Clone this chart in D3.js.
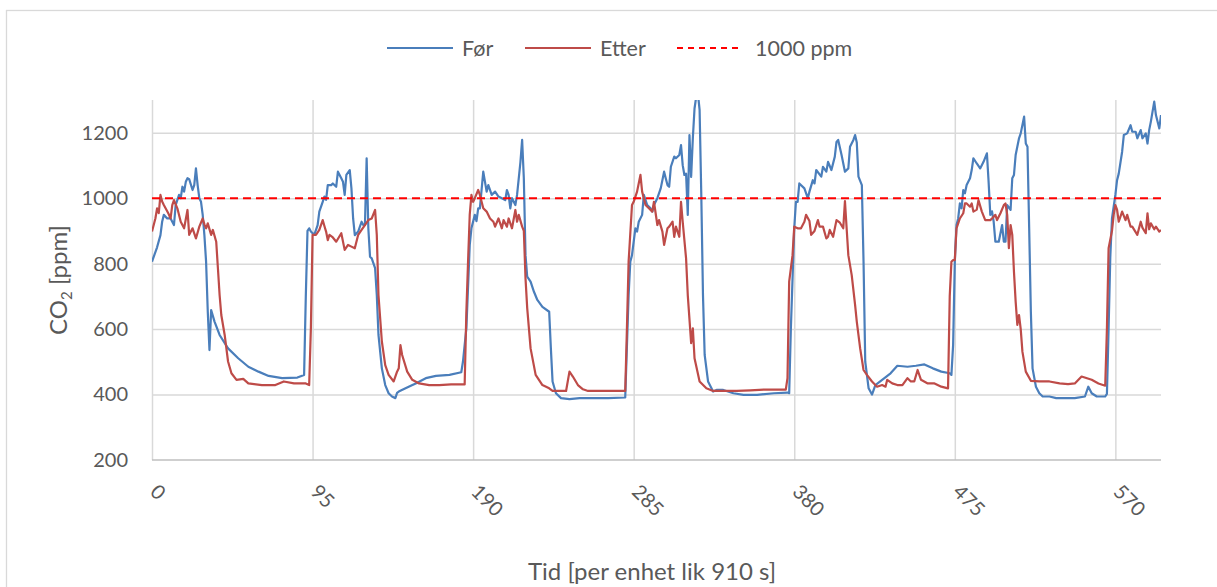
<!DOCTYPE html>
<html>
<head>
<meta charset="utf-8">
<script src="https://cdn.jsdelivr.net/npm/d3@7"></script>
<style>
  body { margin: 0; background: #fff; }
  svg { display: block; font-family: Lato, "Open Sans", sans-serif; }
</style>
</head>
<body>
<script>
// values: [time index, CO2 ppm]
const forData = [[0,806],[3,850],[5,887],[6,928],[7,949],[9,938],[11,938],[13,918],[14,979],[16,1010],[17,1000],[18,1035],[19,1020],[20,1050],[21,1061],[22,1058],[24,1025],[25,1040],[26,1091],[27,1040],[28,1000],[29,989],[30,949],[31,887],[32,806],[33,653],[34,536],[35,658],[37,623],[40,582],[45,541],[51,511],[57,485],[63,470],[69,457],[77,450],[86,452],[90,460],[91,700],[92,900],[93,908],[94,898],[96,888],[98,918],[99,959],[101,989],[102,1005],[103,995],[104,1040],[106,1040],[107,1045],[109,1035],[110,1081],[112,1061],[113,1050],[114,1010],[115,1071],[117,1086],[118,1030],[119,938],[120,887],[122,898],[124,928],[125,918],[126,918],[127,1122],[128,908],[129,821],[130,816],[132,786],[133,704],[134,582],[136,480],[138,429],[140,404],[142,394],[144,389],[145,405],[146,409],[150,419],[156,434],[162,450],[168,457],[176,460],[183,468],[184,501],[186,602],[188,857],[189,908],[191,949],[192,930],[193,969],[194,969],[196,1081],[198,1020],[199,1040],[201,1010],[203,1020],[205,1005],[207,1000],[209,994],[210,1025],[211,1010],[212,969],[213,1000],[215,979],[216,1010],[218,1111],[219,1178],[220,1061],[221,826],[222,760],[224,745],[226,714],[228,689],[231,668],[235,653],[236,541],[237,440],[239,404],[242,389],[247,386],[253,389],[260,389],[270,389],[280,391],[282,704],[283,806],[284,826],[286,908],[287,898],[288,928],[290,949],[291,1010],[293,979],[295,969],[296,959],[297,979],[299,1000],[301,1030],[303,1081],[304,1060],[305,1040],[306,1035],[307,1096],[309,1127],[310,1122],[312,1132],[313,1162],[314,1101],[315,1071],[316,1075],[317,949],[318,1193],[319,1065],[320,1183],[321,1274],[322,1310],[323,1320],[324,1270],[325,1010],[326,704],[327,521],[329,440],[332,409],[334,414],[338,414],[344,404],[350,399],[358,399],[368,404],[376,406],[377,404],[378,602],[380,908],[381,989],[382,989],[383,1045],[386,1030],[388,1000],[389,1020],[391,1055],[392,1045],[393,1086],[396,1066],[397,1096],[399,1081],[400,1111],[402,1086],[404,1127],[405,1172],[406,1178],[408,1132],[410,1081],[412,1091],[413,1157],[415,1178],[416,1193],[417,1170],[418,1066],[420,1040],[421,806],[422,501],[424,419],[426,400],[428,429],[432,445],[437,465],[441,488],[447,485],[452,488],[457,492],[462,480],[467,470],[472,465],[473,460],[474,551],[475,806],[476,918],[477,938],[478,984],[479,969],[480,1025],[481,1015],[482,1040],[484,1061],[485,1086],[486,1122],[488,1106],[490,1091],[492,1111],[494,1137],[495,1050],[496,949],[497,960],[498,928],[499,867],[501,867],[503,918],[504,867],[505,867],[506,979],[508,964],[509,1061],[510,1071],[511,1132],[513,1183],[514,1198],[516,1249],[517,1167],[518,1157],[519,908],[520,653],[521,480],[523,424],[525,404],[527,394],[531,394],[535,389],[540,389],[546,389],[552,394],[554,424],[556,404],[559,394],[564,394],[565,402],[566,602],[567,820],[568,938],[570,1010],[571,1055],[572,1075],[574,1142],[575,1193],[577,1198],[579,1223],[580,1203],[582,1203],[583,1183],[585,1208],[586,1183],[588,1198],[589,1167],[590,1208],[591,1234],[593,1295],[594,1254],[596,1213],[597,1254]];

const etterData = [[0,898],[2,938],[3,969],[4,954],[5,1010],[6,990],[7,979],[9,960],[10,950],[11,938],[12,979],[13,994],[15,969],[17,928],[19,908],[21,964],[22,888],[24,908],[26,877],[28,913],[30,938],[31,920],[32,908],[33,923],[35,888],[36,903],[38,867],[39,786],[40,704],[41,643],[43,582],[45,501],[47,465],[50,445],[54,448],[57,434],[65,429],[73,429],[78,440],[84,434],[91,434],[93,429],[94,602],[95,888],[97,888],[99,903],[101,933],[102,915],[103,898],[104,872],[105,888],[107,880],[109,867],[112,893],[114,842],[116,857],[118,852],[120,847],[122,888],[124,903],[126,918],[128,933],[130,938],[132,964],[133,888],[134,704],[136,562],[138,490],[140,460],[143,440],[145,470],[146,480],[147,551],[148,521],[151,470],[154,445],[158,434],[164,429],[170,429],[177,431],[185,431],[186,653],[187,806],[188,950],[189,1010],[190,989],[191,1000],[193,1025],[194,1010],[196,969],[198,959],[200,938],[202,928],[203,913],[205,938],[207,908],[208,933],[210,913],[211,938],[213,908],[215,964],[216,928],[217,949],[219,913],[220,900],[221,755],[222,664],[224,541],[227,460],[231,429],[235,419],[237,411],[245,411],[247,470],[249,455],[252,429],[255,416],[258,411],[270,411],[280,411],[281,602],[282,806],[284,979],[285,989],[287,1020],[289,1071],[290,1020],[292,979],[294,969],[296,959],[297,989],[299,918],[300,933],[302,898],[303,857],[305,908],[306,913],[308,928],[309,882],[310,913],[312,882],[313,989],[314,928],[316,816],[317,704],[319,557],[320,602],[321,511],[324,440],[328,419],[332,411],[342,411],[346,411],[354,413],[362,415],[375,415],[376,450],[377,745],[379,826],[380,913],[382,908],[384,908],[386,928],[387,949],[389,930],[390,888],[392,900],[394,933],[395,913],[397,913],[399,877],[400,882],[401,903],[403,882],[405,933],[407,925],[409,908],[410,991],[411,908],[412,826],[414,765],[416,674],[417,623],[419,541],[421,475],[423,460],[426,440],[429,424],[432,429],[434,424],[435,445],[438,434],[441,429],[444,429],[447,450],[449,440],[451,440],[453,475],[455,445],[459,434],[463,434],[467,424],[471,419],[472,700],[473,806],[474,811],[475,811],[476,908],[478,938],[480,954],[481,984],[482,984],[484,974],[485,984],[486,959],[488,965],[489,994],[491,959],[493,933],[496,933],[497,938],[499,949],[500,933],[502,954],[504,979],[505,984],[506,949],[507,847],[508,918],[509,888],[510,775],[511,684],[512,613],[513,643],[514,600],[515,531],[517,470],[520,442],[525,440],[531,440],[537,434],[542,432],[546,434],[550,455],[556,445],[560,434],[564,427],[565,600],[566,847],[568,900],[569,949],[570,979],[571,965],[572,928],[574,959],[576,933],[577,949],[579,913],[580,913],[583,888],[585,928],[586,910],[588,893],[589,954],[590,905],[591,923],[593,905],[594,913],[596,898],[597,903]];

const limitValue = 1000;
const xTicks = [0, 95, 190, 285, 380, 475, 570];
const yTicks = [200, 400, 600, 800, 1000, 1200];
const seriesNames = ["Før", "Etter", "1000 ppm"];

const width = 1217, height = 587;
const plot = {left: 152, right: 1161, top: 100, bottom: 460};
const textColor = "#595959";
const blue = "#4a7ebb", red = "#be4b48";

const svg = d3.select("body").append("svg")
    .attr("width", width)
    .attr("height", height);

// chart border
svg.append("rect")
    .attr("x", 6.5).attr("y", 10.5)
    .attr("width", width + 20).attr("height", height + 20)
    .attr("fill", "#fff")
    .attr("stroke", "#d9d9d9")
    .attr("stroke-width", 1.3);

const x = d3.scaleLinear().domain([0, 597]).range([plot.left, plot.right]);
const y = d3.scaleLinear().domain([200, 1300]).range([plot.bottom, plot.top]);

// horizontal gridlines
svg.append("g")
    .attr("transform", "translate(" + plot.left + ",0)")
    .call(d3.axisLeft(y).tickValues(yTicks.slice(1)).tickSize(-(plot.right - plot.left)).tickFormat(""))
    .call(g => g.select(".domain").remove())
    .call(g => g.selectAll("line").attr("stroke", "#d9d9d9").attr("stroke-width", 1.5));

// vertical gridlines
svg.append("g")
    .attr("transform", "translate(0," + plot.bottom + ")")
    .call(d3.axisBottom(x).tickValues(xTicks).tickSize(-(plot.bottom - plot.top)).tickFormat(""))
    .call(g => g.select(".domain").remove())
    .call(g => g.selectAll("line").attr("stroke", "#d9d9d9").attr("stroke-width", 1.5));

// bottom axis line
svg.append("line")
    .attr("x1", plot.left).attr("x2", plot.right)
    .attr("y1", y(200)).attr("y2", y(200))
    .attr("stroke", "#bfbfbf").attr("stroke-width", 1.5);

// y tick labels
svg.append("g")
    .attr("transform", "translate(" + plot.left + ",0)")
    .call(d3.axisLeft(y).tickValues(yTicks).tickSize(0).tickPadding(24).tickFormat(d3.format("d")))
    .call(g => g.select(".domain").remove())
    .call(g => g.selectAll("text").attr("fill", textColor).style("font-size", "20px").style("font-family", "Lato"));

// x tick labels, rotated
svg.append("g").selectAll("text")
    .data(xTicks)
  .enter().append("text")
    .attr("transform", d => "translate(" + (x(d) - 3) + ",493) rotate(45)")
    .attr("fill", textColor)
    .style("font-size", "20px")
    .text(d => d);

// axis titles
const yTitle = svg.append("text")
    .attr("transform", "translate(67,280) rotate(-90)")
    .attr("text-anchor", "middle")
    .attr("fill", textColor)
    .style("font-size", "24px");
yTitle.append("tspan").text("CO");
yTitle.append("tspan").text("2").style("font-size", "15px").attr("dy", 5);
yTitle.append("tspan").text(" [ppm]").attr("dy", -5);

svg.append("text")
    .attr("x", 652)
    .attr("y", 580)
    .attr("text-anchor", "middle")
    .attr("fill", textColor)
    .style("font-size", "24px")
    .text("Tid [per enhet lik 910 s]");

// series
svg.append("clipPath").attr("id", "clip")
  .append("rect")
    .attr("x", plot.left).attr("y", plot.top)
    .attr("width", plot.right - plot.left).attr("height", plot.bottom - plot.top);

const line = d3.line()
    .x(d => x(d[0]))
    .y(d => y(d[1]));

const series = svg.append("g").attr("clip-path", "url(#clip)");

series.append("path")
    .datum(forData)
    .attr("fill", "none")
    .attr("stroke", blue)
    .attr("stroke-width", 2.2)
    .attr("stroke-linejoin", "round")
    .attr("d", line);

series.append("path")
    .datum(etterData)
    .attr("fill", "none")
    .attr("stroke", red)
    .attr("stroke-width", 2.2)
    .attr("stroke-linejoin", "round")
    .attr("d", line);

series.append("path")
    .datum([[0, limitValue], [597, limitValue]])
    .attr("fill", "none")
    .attr("stroke", "#ff0000")
    .attr("stroke-width", 2)
    .attr("stroke-dasharray", "8,5")
    .attr("d", line);

// legend
const legendItems = [
  {name: seriesNames[0], color: blue, dash: null, x: 387},
  {name: seriesNames[1], color: red, dash: null, x: 525},
  {name: seriesNames[2], color: "#ff0000", dash: "6,5", x: 677}
];
const legend = svg.append("g").selectAll("g")
    .data(legendItems)
  .enter().append("g")
    .attr("transform", d => "translate(" + d.x + ",48)");
legend.append("line")
    .attr("x1", 0).attr("x2", 66)
    .attr("stroke", d => d.color)
    .attr("stroke-width", d => d.dash ? 2 : 2.2)
    .attr("stroke-dasharray", d => d.dash);
legend.append("text")
    .attr("x", d => d.dash ? 78 : 75)
    .attr("dy", "0.35em")
    .attr("fill", textColor)
    .style("font-size", "21.5px")
    .text(d => d.name);
</script>
</body>
</html>
